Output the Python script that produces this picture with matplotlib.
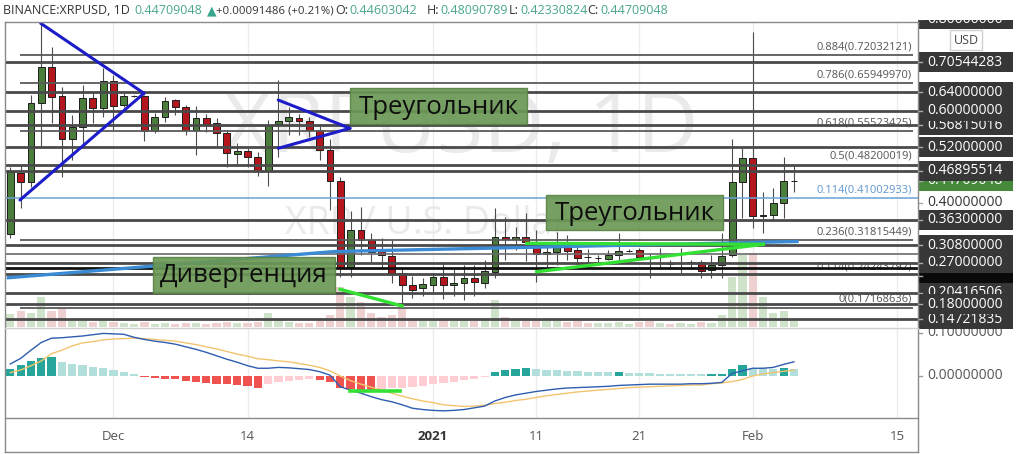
import matplotlib
matplotlib.use("Agg")
import matplotlib.pyplot as plt
from matplotlib.patches import Rectangle
from matplotlib.lines import Line2D
from matplotlib.transforms import Affine2D, blended_transform_factory as blend

plt.rcParams['font.family'] = ['Open Sans', 'DejaVu Sans']

# ---------------- data (day offsets from 2020-12-01) ----------------
days = list(range(-10, 67))
opens = [0.3320, 0.4638, 0.4455, 0.6171, 0.6952, 0.6316, 0.5376, 0.5636, 0.6273, 0.6062,
         0.6635, 0.6121, 0.6310, 0.6316, 0.5556, 0.5853, 0.6229, 0.6084, 0.5578, 0.5832,
         0.5737, 0.5506, 0.5057, 0.5128, 0.4985, 0.4694, 0.5701, 0.5773, 0.5845, 0.5780,
         0.5578, 0.5144, 0.4470, 0.2610, 0.3407, 0.3190, 0.2957, 0.2842, 0.2480, 0.2213,
         0.2141, 0.2213, 0.2393, 0.2213, 0.2262, 0.2371, 0.2262, 0.2501, 0.3261, 0.3211,
         0.3248, 0.3059, 0.2879, 0.2936, 0.3044, 0.2973, 0.2820, 0.2790, 0.2771, 0.2864,
         0.2955, 0.2973, 0.2686, 0.2688, 0.2662, 0.2695, 0.2697, 0.2718, 0.2538, 0.2647,
         0.2864, 0.4442, 0.4976, 0.3710, 0.3732, 0.3986, 0.44603042]
highs = [0.4781, 0.4818, 0.6338, 0.7895, 0.7387, 0.6518, 0.5904, 0.6555, 0.6410, 0.6918,
         0.6772, 0.6375, 0.6345, 0.6338, 0.5940, 0.6301, 0.6244, 0.6120, 0.6099, 0.5925,
         0.5832, 0.5578, 0.5289, 0.5181, 0.5107, 0.5795, 0.6663, 0.6071, 0.5925, 0.5866,
         0.5665, 0.5376, 0.4564, 0.3826, 0.3899, 0.3335, 0.3226, 0.3190, 0.2610, 0.2408,
         0.2358, 0.2480, 0.2718, 0.2553, 0.2647, 0.2647, 0.2755, 0.3878, 0.3695, 0.3466,
         0.3782, 0.3407, 0.3044, 0.3370, 0.3298, 0.3044, 0.2988, 0.2870, 0.2973, 0.3335,
         0.3000, 0.3010, 0.2901, 0.3010, 0.2755, 0.3010, 0.2755, 0.2755, 0.2864, 0.3335,
         0.5376, 0.5181, 0.7712, 0.4238, 0.4312, 0.4998, 0.48090789]
lows = [0.3227, 0.3878, 0.4347, 0.5215, 0.5723, 0.4564, 0.4926, 0.5215, 0.5723, 0.5867,
        0.5578, 0.6071, 0.6290, 0.5345, 0.5506, 0.5758, 0.5904, 0.5469, 0.5035, 0.5541,
        0.5230, 0.4781, 0.4840, 0.4781, 0.4579, 0.4362, 0.4985, 0.5469, 0.5469, 0.5432,
        0.4926, 0.3841, 0.2393, 0.2380, 0.2864, 0.2718, 0.2575, 0.2249, 0.1717, 0.1924,
        0.1980, 0.2067, 0.1902, 0.1974, 0.1887, 0.1974, 0.2141, 0.2358, 0.2755, 0.2973,
        0.2740, 0.2284, 0.2610, 0.2647, 0.2755, 0.2647, 0.2684, 0.2720, 0.2755, 0.2755,
        0.2920, 0.2755, 0.2358, 0.2610, 0.2574, 0.2467, 0.2574, 0.2358, 0.2358, 0.2358,
        0.2817, 0.3661, 0.3443, 0.3335, 0.3624, 0.3661, 0.42330824]
closes = [0.4673, 0.4455, 0.6171, 0.6952, 0.6301, 0.5376, 0.5636, 0.6273, 0.6062, 0.6648,
          0.6099, 0.6316, 0.6322, 0.5556, 0.5853, 0.6214, 0.6084, 0.5578, 0.5832, 0.5708,
          0.5506, 0.5072, 0.5128, 0.4985, 0.4694, 0.5686, 0.5773, 0.5853, 0.5773, 0.5578,
          0.5144, 0.4477, 0.2610, 0.3407, 0.3190, 0.2935, 0.2864, 0.2480, 0.2213, 0.2104,
          0.2228, 0.2380, 0.2213, 0.2262, 0.2371, 0.2284, 0.2516, 0.3261, 0.3205, 0.3261,
          0.3152, 0.2878, 0.2936, 0.3059, 0.2957, 0.2805, 0.2810, 0.2796, 0.2864, 0.2958,
          0.2961, 0.2814, 0.2682, 0.2692, 0.2658, 0.2699, 0.2697, 0.2523, 0.2647, 0.2842,
          0.4442, 0.4976, 0.3710, 0.3740, 0.3986, 0.4470, 0.44709048]
volumes = [130, 160, 140, 300, 160, 190, 60, 60, 50, 60, 50, 40, 30, 50, 30, 40, 30, 40, 40, 30,
           40, 50, 40, 40, 50, 140, 70, 50, 40, 40, 60, 120, 400, 300, 250, 140, 100, 120, 180, 80,
           60, 60, 80, 60, 70, 60, 80, 270, 100, 70, 90, 80, 60, 60, 50, 60, 40, 40, 40, 50,
           30, 50, 60, 40, 30, 40, 30, 50, 40, 120, 500, 720, 740, 300, 140, 160, 60]
macd = [0.028, 0.041, 0.060, 0.078, 0.088, 0.089, 0.091, 0.093, 0.096, 0.099,
        0.098, 0.097, 0.090, 0.085, 0.081, 0.078, 0.074, 0.068, 0.062, 0.055,
        0.047, 0.039, 0.032, 0.024, 0.018, 0.018, 0.020, 0.019, 0.017, 0.015,
        0.010, 0.002, -0.025, -0.033, -0.040, -0.048, -0.055, -0.060, -0.067, -0.075,
        -0.078, -0.080, -0.081, -0.080, -0.078, -0.074, -0.070, -0.058, -0.050, -0.044,
        -0.040, -0.036, -0.033, -0.030, -0.028, -0.027, -0.026, -0.025, -0.024, -0.022,
        -0.021, -0.020, -0.019, -0.019, -0.019, -0.019, -0.018, -0.018, -0.017, -0.015,
        0.006, 0.012, 0.018, 0.018, 0.020, 0.027, 0.033]
signal = [0.008, 0.014, 0.024, 0.035, 0.052, 0.060, 0.070, 0.077, 0.080, 0.084,
          0.086, 0.087, 0.088, 0.087, 0.085, 0.083, 0.081, 0.077, 0.073, 0.068,
          0.063, 0.057, 0.051, 0.046, 0.040, 0.038, 0.035, 0.033, 0.029, 0.025,
          0.020, 0.012, 0.000, -0.011, -0.019, -0.026, -0.033, -0.040, -0.047, -0.053,
          -0.058, -0.062, -0.067, -0.069, -0.071, -0.070, -0.068, -0.064, -0.061, -0.057,
          -0.054, -0.050, -0.046, -0.043, -0.040, -0.037, -0.035, -0.033, -0.031, -0.029,
          -0.027, -0.026, -0.025, -0.024, -0.023, -0.022, -0.021, -0.021, -0.018, -0.016,
          -0.013, -0.008, 0.000, 0.005, 0.008, 0.011, 0.014]
hist = [0.017, 0.025, 0.036, 0.043, 0.044, 0.033, 0.029, 0.026, 0.022, 0.019,
        0.015, 0.010, 0.004, -0.002, -0.005, -0.006, -0.008, -0.012, -0.014, -0.016,
        -0.018, -0.019, -0.022, -0.023, -0.027, -0.019, -0.014, -0.011, -0.009, -0.008,
        -0.010, -0.014, -0.027, -0.031, -0.035, -0.036, -0.031, -0.029, -0.027, -0.025,
        -0.023, -0.019, -0.017, -0.014, -0.009, -0.006, -0.003, 0.009, 0.013, 0.016,
        0.018, 0.016, 0.015, 0.013, 0.012, 0.011, 0.010, 0.010, 0.009, 0.010,
        0.008, 0.006, 0.006, 0.005, 0.005, 0.005, 0.004, 0.004, 0.0045, 0.005,
        0.016, 0.025, 0.019, 0.019, 0.016, 0.018, 0.017]

tick_days = [0, 13, 31, 41, 51, 62, 76]
tick_labels = ['Dec', '14', '2021', '11', '21', 'Feb', '15']

# horizontal levels: (price, kind)
levels = [(0.72032121, 'fib'), (0.70544283, 'thick'), (0.65949970, 'fib'), (0.64, 'thick'),
          (0.60, 'thick'), (0.56815016, 'thick'), (0.55523425, 'fib'), (0.52, 'thick'),
          (0.48200019, 'thick'), (0.46895514, 'thick'), (0.41002933, 'blue'), (0.363, 'thick'),
          (0.31815449, 'fib'), (0.308, 'thick'), (0.2886, 'thin'), (0.27, 'thick'),
          (0.2582, 'black'), (0.2452, 'thick'), (0.20416506, 'thick'), (0.18, 'thick'),
          (0.17168636, 'fib'), (0.14721835, 'thick')]
fib_labels = [(0.72032121, '0.884(0.72032121)'), (0.65949970, '0.786(0.65949970)'),
              (0.55523425, '0.618(0.55523425)'), (0.48200019, '0.5(0.48200019)'),
              (0.41002933, '0.114(0.41002933)'), (0.31815449, '0.236(0.31815449)'),
              (0.24243792, '0.114(0.24243792)'), (0.17168636, '0(0.17168636)')]

# right axis labels, in drawing order: (price, text, background, text colour)
DARK = '#373737'
price_labels = [(0.7988, '0.80000000', DARK, 'white'),
                (0.70544283, '0.70544283', DARK, 'white'),
                (0.64, '0.64000000', DARK, 'white'),
                (0.56815016, '0.56815016', DARK, 'white'),
                (0.60, '0.60000000', DARK, 'white'),
                (0.52, '0.52000000', DARK, 'white'),
                (0.44709048, '0.44709048', '#47893a', 'white'),
                (0.46895514, '0.46895514', DARK, 'white'),
                (0.40, '0.40000000', 'white', '#333333'),
                (0.363, '0.36300000', DARK, 'white'),
                (0.308, '0.30800000', DARK, 'white'),
                (0.2405, '', '#0a0a0a', 'white'),
                (0.27, '0.27000000', DARK, 'white'),
                (0.20416506, '0.20416506', DARK, 'white'),
                (0.14721835, '0.14721835', DARK, 'white'),
                (0.18, '0.18000000', DARK, 'white')]
macd_labels = [(0.1, '0.10000000'), (0.0, '0.00000000')]

# drawings (day, price)
tri1_top = ([-7.06, 2.96], [0.7895, 0.6375])
tri1_bot = ([-9.07, 2.96], [0.4058, 0.6375])
tri2_top = ([15.98, 22.94], [0.6229, 0.5615])
tri2_bot = ([15.98, 22.94], [0.5181, 0.5615])
div_price = ([21.97, 28.0], [0.2120, 0.1757])
tri3_top = ([40.08, 63.03], [0.3118, 0.3096])
tri3_bot = ([41.05, 63.03], [0.2501, 0.3096])
blue_trend = ([-10.2, 21.48, 66.3], [0.2371, 0.2940, 0.3157])
div_macd = ([22.9, 27.8], [-0.036, -0.036])

header = [(3, 'BINANCE:XRPUSD, 1D', '#333333'), (134, '0.44709048', '#4aa58f'),
          (207, '▲', '#3aa58f'), (216, '+0.00091486 (+0.21%)', '#333333'),
          (335, 'O:', '#333333'), (349, '0.44603042', '#4aa58f'),
          (427, 'H:', '#333333'), (440, '0.48090789', '#4aa58f'),
          (509, 'L:', '#333333'), (520, '0.42330824', '#4aa58f'),
          (587, 'C:', '#333333'), (600, '0.44709048', '#4aa58f')]

# ---------------- figure ----------------
W, H = 1024, 454
fig = plt.figure(figsize=(W / 100, H / 100), dpi=100)
fig.patch.set_facecolor('white')
PX = Affine2D().scale(1.0 / W, -1.0 / H).translate(0, 1) + fig.transFigure


def rect_fig(x0, y0, x1, y1):
    return [x0 / W, 1 - y1 / H, (x1 - x0) / W, (y1 - y0) / H]


XLIM = (-10.52, 78.03)
PRICE_LIM = (0.1301, 0.7923)
MACD_LIM = (-0.0977, 0.1093)
PPX = (PRICE_LIM[1] - PRICE_LIM[0]) / (327 - 22)

vax = fig.add_axes(rect_fig(5, 22, 918, 327))
ax = fig.add_axes(rect_fig(5, 22, 918, 327))
mx = fig.add_axes(rect_fig(5, 329, 918, 418))
for a in (vax, ax, mx):
    a.set_xlim(*XLIM)
    a.set_xticks([])
    a.set_yticks([])
    for s in a.spines.values():
        s.set_visible(False)
ax.set_ylim(*PRICE_LIM)
ax.patch.set_visible(False)
mx.set_ylim(*MACD_LIM)
vax.set_ylim(0, 3050)

# grid
for d in tick_days:
    vax.axvline(d, color='#ececec', lw=1, zorder=0)
    mx.axvline(d, color='#ececec', lw=1, zorder=0)

# volume
vcol = ['#cfe3cb' if c >= o else '#efd0d0' for o, c in zip(opens, closes)]
vax.bar(days, volumes, width=0.8, color=vcol, zorder=1)

# watermark
ax.text(461, 130, 'XRPUSD, 1D', transform=PX, ha='center', va='center', fontsize=61,
        color='#eaeaea', zorder=0.5)
ax.text(285, 224, 'XRP / U.S. Dollar', transform=PX, ha='left', va='center', fontsize=27,
        color='#eaeaea', zorder=0.5)

# candles
for d, o, h, l, c in zip(days, opens, highs, lows, closes):
    up = c >= o
    ax.vlines(d, l, h, color='#4d4d4d', lw=0.8, zorder=3)
    lo, hi = min(o, c), max(o, c)
    ax.add_patch(Rectangle((d - 0.33, lo), 0.66, max(hi - lo, 0.0006),
                           facecolor='#4a7c3c' if up else '#b3171d',
                           edgecolor='#1e1e1e', lw=0.7, zorder=4))

# horizontal levels
for p, kind in levels:
    if kind == 'fib':
        ax.hlines(p, -9.07, 77.5, color='#5a5a5a', lw=1.3, zorder=5)
    elif kind == 'thick':
        ax.hlines(p, XLIM[0], XLIM[1], color='#4a4a4a', lw=2.0, zorder=5)
    elif kind == 'thin':
        ax.hlines(p, XLIM[0], XLIM[1], color='#6a6a6a', lw=1.2, zorder=5)
    elif kind == 'black':
        ax.hlines(p, XLIM[0], XLIM[1], color='#111111', lw=2.0, zorder=5)
    elif kind == 'blue':
        ax.hlines(p, XLIM[0], XLIM[1], color='#6aa2d6', lw=1.1, zorder=5)

tx_fib = blend(PX, ax.transData)
for p, txt in fib_labels:
    col = '#5d96cf' if p == 0.41002933 else '#555555'
    ax.text(912, p + 3 * PPX, txt, transform=tx_fib, ha='right', va='bottom',
            fontsize=8, color=col, zorder=4.5)

# drawings
for xs, ys in (tri1_top, tri1_bot, tri2_top, tri2_bot):
    ax.plot(xs, ys, color='#1c1cc8', lw=2.2, zorder=6, solid_capstyle='round')
ax.plot(*blue_trend, color='#3a8ad4', lw=2.4, zorder=6)
for xs, ys in (div_price, tri3_top, tri3_bot):
    ax.plot(xs, ys, color='#35e035', lw=2.4, zorder=7)

# text boxes (image-pixel positions)
boxes = [(350, 88, 527, 124, 'Треугольник'), (546, 195, 723, 230, 'Треугольник'),
         (153, 257, 335, 293, 'Дивергенция')]
for x0, y0, x1, y1, txt in boxes:
    ax.add_patch(Rectangle((x0, y1), x1 - x0, y0 - y1, transform=PX, facecolor='#6b9856',
                           edgecolor='#5a8546', lw=1, alpha=0.92, zorder=8))
    ax.text((x0 + x1) / 2, (y0 + y1) / 2 + 1, txt, transform=PX, ha='center', va='center',
            fontsize=18.5, color='#0e0e0e', zorder=9)

# MACD pane
hcol = []
for i, v in enumerate(hist):
    prev = hist[i - 1] if i > 0 else 0
    if v >= 0:
        hcol.append('#26a69a' if v > prev else '#b2dfdb')
    else:
        hcol.append('#ef5350' if v < prev else '#ffcdd2')
mx.bar(days, hist, width=0.8, color=hcol, zorder=2)
mx.plot(days, macd, color='#2f5db0', lw=1.0, zorder=4)
mx.plot(days, signal, color='#f2c46e', lw=1.0, zorder=3)
mx.plot(*div_macd, color='#35e035', lw=2.6, zorder=5)

# date labels
tdate = blend(mx.transData, PX)
for d, lbl in zip(tick_days, tick_labels):
    bold = lbl == '2021'
    mx.text(d, 436, lbl, transform=tdate, ha='center', va='center', fontsize=9.5,
            color='#333333' if bold else '#555555', fontweight='bold' if bold else 'normal',
            clip_on=False)

# right price axis
ra = fig.add_axes(rect_fig(918, 20, W, H))
ra.set_xlim(918, W)
ra.set_ylim(0, 1)
ra.axis('off')
tpr = blend(ra.transData, ax.transData)
tmr = blend(ra.transData, mx.transData)
z = 10
for p, txt in macd_labels:
    ra.text(927, p, txt, transform=tmr, ha='left', va='center', fontsize=10, color='#555555',
            zorder=z)
    ra.plot([918, 922], [p, p], transform=tmr, color='#999999', lw=1, zorder=z)
for p, txt, bg, fg in price_labels:
    z += 3
    ra.add_patch(Rectangle((918, p - 10 * PPX), 95, 20 * PPX, transform=tpr,
                           facecolor=bg, edgecolor='none', zorder=z))
    if txt:
        ra.text(927, p, txt, transform=tpr, ha='left', va='center', fontsize=10, color=fg,
                zorder=z + 1)
    ra.plot([918, 922], [p, p], transform=tpr, color='#aaaaaa', lw=1, zorder=z + 2)
# USD box
fig.add_artist(Rectangle((950, 50), 32, -20, transform=PX, facecolor='white',
                         edgecolor='#d0d0d0', lw=1))
fig.text(966, 40, 'USD', transform=PX, ha='center', va='center', fontsize=9, color='#444444')

# frame lines
for xs, ys, col in [([5, 5], [22, 452], '#8a8a8a'), ([5, 918], [22, 22], '#8a8a8a'),
                    ([918, 918], [22, 452], '#8a8a8a'), ([5, 918], [452, 452], '#8a8a8a'),
                    ([5, 918], [418, 418], '#8a8a8a'), ([5, 918], [328, 328], '#d0d0d0')]:
    fig.add_artist(Line2D(xs, ys, transform=PX, color=col, lw=1))

# header
for x, txt, col in header:
    fig.text(x, 11, txt, transform=PX, ha='left', va='center',
             fontsize=8.2 if '%' in txt else 9, color=col)

fig.savefig('out.png', dpi=100, facecolor='white')
